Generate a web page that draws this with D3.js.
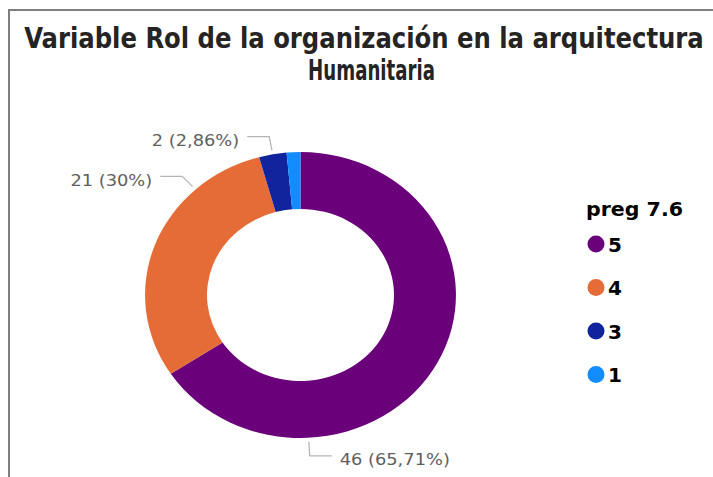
<!DOCTYPE html>
<html>
<head>
<meta charset="utf-8">
<title>Variable Rol de la organización</title>
<style>
  body { margin: 0; background: #fff; }
  svg { display: block; }
  .frame { fill: none; stroke: #7f7f7f; stroke-width: 2; }
  .title { font-family: "Liberation Sans Narrow", "DejaVu Sans Condensed", sans-serif; font-weight: bold; fill: #252423; }
  .leader { fill: none; stroke: #b5b5b5; stroke-width: 1.3; }
  .dlabel { font-family: "DejaVu Sans", sans-serif; font-size: 16.5px; fill: #605e5c; }
  .legend-title { font-family: "DejaVu Sans", sans-serif; font-weight: bold; font-size: 19px; fill: #000; }
  .legend-item { font-family: "DejaVu Sans", sans-serif; font-weight: bold; font-size: 20px; fill: #000; }
</style>
</head>
<body>
<svg width="713" height="477"></svg>
<script src="https://cdn.jsdelivr.net/npm/d3@7"></script>
<script>
// chart values
var titleLines = ["Variable Rol de la organización en la arquitectura", "Humanitaria"];
var legendTitle = "preg 7.6";
var categories = ["5", "4", "3", "1"];
var counts = [46, 21, 2, 1];
var colors = ["#6b007b", "#e66c37", "#12239e", "#118dff"];
var labelled = ["5", "4", "3"];   // slices that carry a data label

// label placement (degrees clockwise from 12 o'clock), others sit at the slice middle
var labelAngle = {"5": 177, "4": 317.5};

var svg = d3.select("svg"),
    cx = 300.5, cy = 295,
    sx = 1.087,            // the picture is a bit wider than tall
    rOuter = 143, rInner = 86;

// frame of the visual
svg.append("path").attr("class", "frame").attr("d", "M9,480V10H720");

// title: size each line to its width, then stretch it up to the cap height
var titleX = [364, 371.5],
    titleY = [48, 80],
    titleWidths = [680, 127],
    titleSize = 29;
titleLines.forEach(function(line, i) {
  var t = svg.append("text")
      .attr("class", "title")
      .attr("text-anchor", "middle")
      .style("font-size", titleSize + "px")
      .text(line);
  var fs = titleSize * titleWidths[i] / t.node().getComputedTextLength();
  t.style("font-size", fs + "px")
   .attr("transform", "translate(" + titleX[i] + "," + titleY[i] + ") scale(1," + (titleSize / fs) + ")");
});

var data = categories.map(function(c, i) {
  return {cat: c, n: counts[i], color: colors[i]};
});
var total = d3.sum(counts);
var fmt = d3.format(".2~f");

var pie = d3.pie().sort(null).value(function(d) { return d.n; });
var arc = d3.arc().innerRadius(rInner).outerRadius(rOuter);
var arcs = pie(data);

var donut = svg.append("g")
    .attr("transform", "translate(" + cx + "," + cy + ") scale(" + sx + ",1)");

donut.selectAll("path")
    .data(arcs)
  .enter().append("path")
    .attr("d", arc)
    .attr("fill", function(d) { return d.data.color; });

// data labels with leader lines
function polar(a, r) {
  return [cx + Math.sin(a) * r * sx, cy - Math.cos(a) * r];
}

arcs.filter(function(d) { return labelled.indexOf(d.data.cat) >= 0; })
  .forEach(function(d) {
    var a = labelAngle[d.data.cat] != null
        ? labelAngle[d.data.cat] * Math.PI / 180
        : (d.startAngle + d.endAngle) / 2;
    var p0 = polar(a, rOuter + 4),
        p1 = polar(a, rOuter + 18),
        side = Math.sin(a) >= 0 ? 1 : -1,
        p2 = [p1[0] + side * 22, p1[1]];

    svg.append("path")
        .attr("class", "leader")
        .attr("d", d3.line()([p0, p1, p2]));

    var pct = fmt(d.data.n / total * 100).replace(".", ",");
    var t = svg.append("text")
        .attr("class", "dlabel")
        .attr("x", p2[0] + side * 8)
        .attr("y", p2[1] + 9.5)
        .attr("text-anchor", side > 0 ? "start" : "end")
        .text(d.data.n + " (" + pct + "%)");
    t.attr("textLength", t.node().getComputedTextLength() * 1.08)
     .attr("lengthAdjust", "spacingAndGlyphs");
  });

// legend
svg.append("text")
    .attr("class", "legend-title")
    .attr("x", 586)
    .attr("y", 216)
    .attr("textLength", 97)
    .attr("lengthAdjust", "spacingAndGlyphs")
    .text(legendTitle);

var item = svg.selectAll(".legend")
    .data(data)
  .enter().append("g")
    .attr("class", "legend")
    .attr("transform", function(d, i) { return "translate(596," + (244 + i * 43.5) + ")"; });

item.append("circle")
    .attr("r", 8.5)
    .attr("fill", function(d) { return d.color; });

item.append("text")
    .attr("class", "legend-item")
    .attr("x", 12)
    .attr("y", 7.5)
    .text(function(d) { return d.cat; });
</script>
</body>
</html>
